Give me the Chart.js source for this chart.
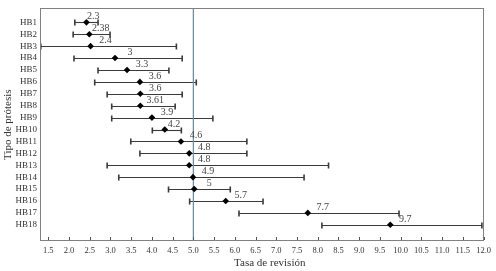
<!DOCTYPE html>
<html><head><meta charset="utf-8">
<script src="https://cdn.jsdelivr.net/npm/chart.js@4/dist/chart.umd.min.js"></script>
<style>html,body{margin:0;padding:0;background:#fff;}canvas{display:block;}</style>
</head><body>
<canvas id="c" width="496" height="271"></canvas>
<script>
const categories = ['HB1','HB2','HB3','HB4','HB5','HB6','HB7','HB8','HB9','HB10','HB11','HB12','HB13','HB14','HB15','HB16','HB17','HB18'];
const estimates = [2.42, 2.49, 2.52, 3.11, 3.40, 3.71, 3.72, 3.72, 4.00, 4.31, 4.70, 4.90, 4.90, 4.99, 5.02, 5.78, 7.76, 9.75];
const lowerCI = [2.14, 2.10, 1.32, 2.12, 2.70, 2.62, 2.92, 3.03, 3.03, 4.01, 3.49, 3.71, 2.92, 3.20, 4.40, 4.91, 6.10, 8.10];
const upperCI = [2.70, 2.99, 4.59, 4.73, 4.41, 5.07, 4.73, 4.56, 5.47, 4.71, 6.29, 6.29, 8.26, 7.67, 5.89, 6.68, 9.96, 11.96];
const valueLabels = ['2.3','2.38','2.4','3','3.3','3.6','3.6','3.61','3.9','4.2','4.6','4.8','4.8','4.9','5','5.7','7.7','9.7'];
const xTickValues = [1.5,2.0,2.5,3.0,3.5,4.0,4.5,5.0,5.5,6.0,6.5,7.0,7.5,8.0,8.5,9.0,9.5,10.0,10.5,11.0,11.5,12.0];
const referenceRate = 5.0;
const xTitle = 'Tasa de revisión';

const SERIF = '"Liberation Serif", "Times New Roman", serif';
const TXT = '#333333';

const forestPlugin = {
  id: 'forest',
  beforeDatasetsDraw(chart) {
    const {ctx, scales: {x, y}, chartArea} = chart;
    ctx.save();
    ctx.strokeStyle = '#3a3a3a';
    for (let i = 0; i < categories.length; i++) {
      const py = Math.round(y.getPixelForValue(i + 1)) + 0.5;
      const x0 = x.getPixelForValue(lowerCI[i]);
      const x1 = x.getPixelForValue(upperCI[i]);
      ctx.lineWidth = 1.1;
      ctx.beginPath(); ctx.moveTo(x0, py); ctx.lineTo(x1, py); ctx.stroke();
      ctx.lineWidth = 1.6;
      ctx.beginPath();
      ctx.moveTo(x0, py - 3); ctx.lineTo(x0, py + 3);
      ctx.moveTo(x1, py - 3); ctx.lineTo(x1, py + 3);
      ctx.stroke();
    }
    const rx = x.getPixelForValue(referenceRate);
    ctx.strokeStyle = '#5a93c4';
    ctx.lineWidth = 1.3;
    ctx.beginPath(); ctx.moveTo(rx, chartArea.top); ctx.lineTo(rx, chartArea.bottom); ctx.stroke();
    ctx.restore();
  },
  afterDatasetsDraw(chart) {
    const {ctx, scales: {x, y}} = chart;
    ctx.save();
    ctx.font = '10px ' + SERIF;
    ctx.fillStyle = '#444444';
    ctx.textAlign = 'center';
    ctx.textBaseline = 'alphabetic';
    for (let i = 0; i < categories.length; i++) {
      const px = x.getPixelForValue(estimates[i]);
      const py = y.getPixelForValue(i + 1);
      const right = x.getPixelForValue(upperCI[i]);
      const dx = Math.min(15, (right - px) / 2 + 1);
      ctx.fillText(valueLabels[i], px + dx, py - 3);
    }
    ctx.restore();
  },
  afterDraw(chart) {
    const {ctx, scales: {x}, chartArea: a} = chart;
    ctx.save();
    ctx.strokeStyle = '#808080';
    ctx.lineWidth = 1;
    ctx.strokeRect(Math.round(a.left) + 0.5, Math.round(a.top) + 0.5, Math.round(a.right - a.left) - 1, Math.round(a.bottom - a.top) - 1);
    ctx.strokeStyle = '#555555';
    ctx.beginPath();
    for (const v of xTickValues) {
      const px = Math.round(x.getPixelForValue(v)) + 0.5;
      ctx.moveTo(px, a.bottom - 1); ctx.lineTo(px, a.bottom - 4);
    }
    ctx.stroke();
    // x-axis title, slightly right of centre as in the reference
    ctx.font = '11px ' + SERIF;
    ctx.fillStyle = TXT;
    ctx.textAlign = 'center';
    ctx.textBaseline = 'middle';
    ctx.fillText(xTitle, (a.left + a.right) / 2 + 8, x.bottom - 7.5);
    ctx.restore();
  }
};

new Chart(document.getElementById('c'), {
  type: 'scatter',
  data: {
    datasets: [{
      data: estimates.map((v, i) => ({x: v, y: i + 1})),
      pointStyle: 'rectRot',
      pointRadius: 3.3,
      pointHoverRadius: 3.3,
      backgroundColor: '#000000',
      borderColor: '#000000',
      borderWidth: 0
    }]
  },
  options: {
    responsive: false,
    animation: false,
    devicePixelRatio: 1,
    layout: {padding: {top: 1.5, right: 11.5, left: 0, bottom: 0}},
    plugins: {legend: {display: false}, tooltip: {enabled: false}},
    scales: {
      x: {
        type: 'linear', min: 1.3, max: 12,
        afterBuildTicks: s => { s.ticks = xTickValues.map(v => ({value: v})); },
        afterFit: s => { s.height = 30; },
        ticks: {callback: v => Number(v).toFixed(1), font: {family: SERIF, size: 8.5}, color: TXT, padding: 5, maxRotation: 0, autoSkip: false},
        grid: {display: false, drawTicks: false},
        border: {display: false},
        title: {display: false}
      },
      y: {
        type: 'linear', reverse: true, min: -0.17, max: 19.36,
        afterBuildTicks: s => { s.ticks = categories.map((c, i) => ({value: i + 1})); },
        afterFit: s => { s.width = 40; },
        ticks: {callback: v => categories[Math.round(v) - 1], font: {family: SERIF, size: 9}, color: TXT, padding: 3, autoSkip: false},
        grid: {display: false, drawTicks: false},
        border: {display: false},
        title: {display: true, text: 'Tipo de prótesis', font: {family: SERIF, size: 11}, color: TXT, padding: {top: 2, bottom: 0}}
      }
    }
  },
  plugins: [forestPlugin]
});
</script>
</body></html>
